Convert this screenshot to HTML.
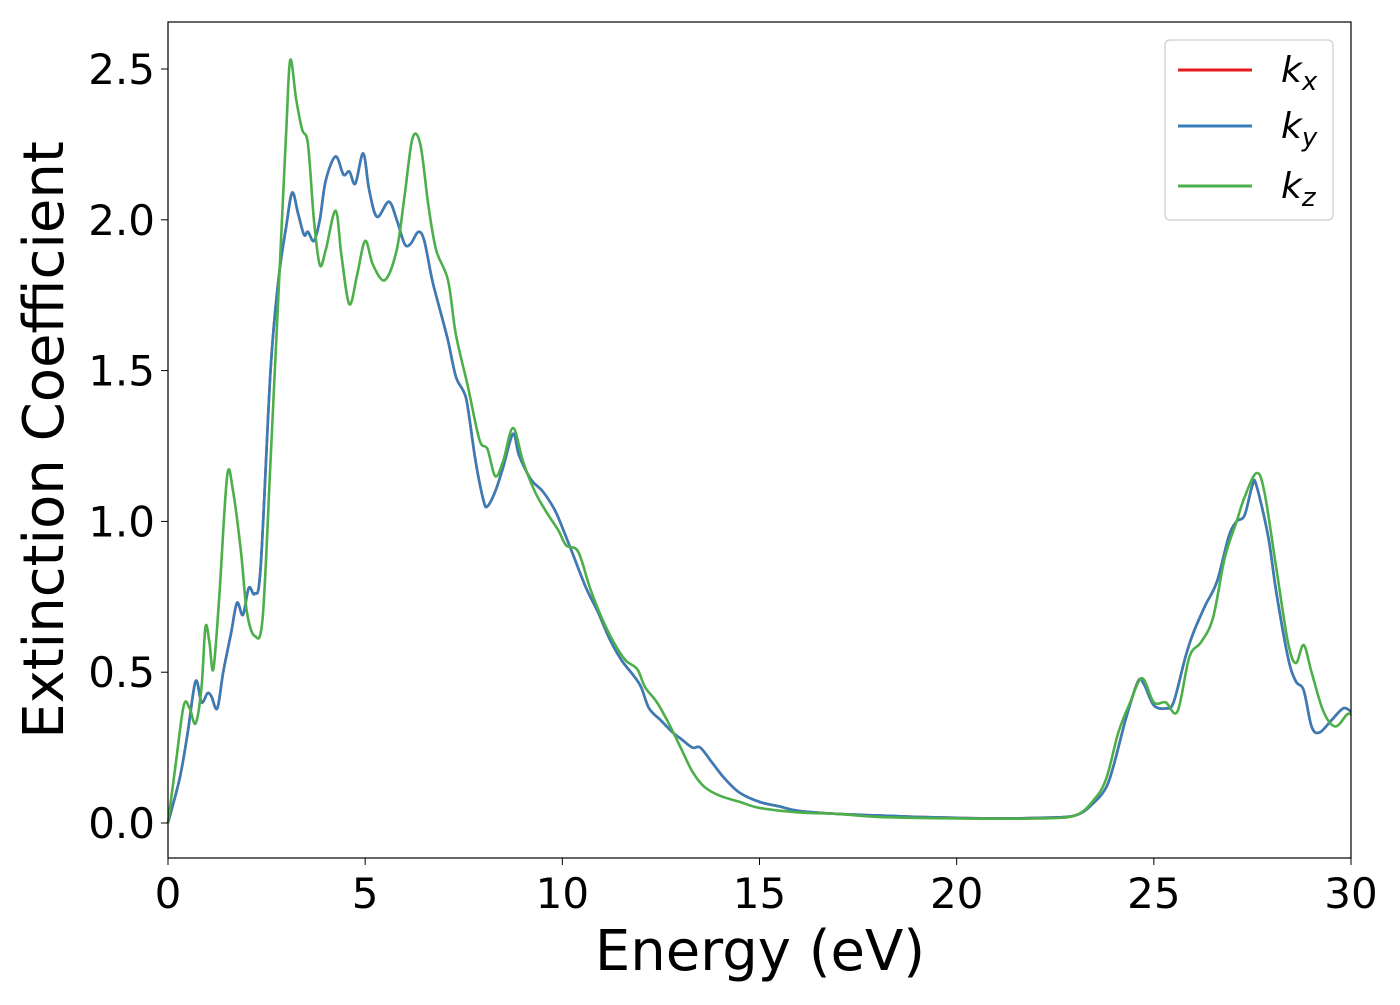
<!DOCTYPE html>
<html><head><meta charset="utf-8"><style>
body{margin:0;background:#fff;}
svg text{font-family:"DejaVu Sans","Liberation Sans",sans-serif;}
</style></head><body>
<svg id="chart" width="1400" height="1000" xmlns="http://www.w3.org/2000/svg">
<g id="series"></g>
<g id="axes"></g>
<rect x="168" y="22" width="1183" height="836" fill="none" stroke="#000" stroke-width="1.2"/>
<text x="760" y="970" font-size="56" text-anchor="middle">Energy (eV)</text>
<text transform="translate(63,440) rotate(-90)" font-size="56" text-anchor="middle">Extinction Coefficient</text>
<g>
<rect x="1165" y="40" width="168" height="180" rx="5" fill="#fff" stroke="#ccc" stroke-width="1.2"/>
<line x1="1178" y1="70" x2="1252" y2="70" stroke="#e41a1c" stroke-width="3"/>
<text x="1281" y="82" font-size="36" font-style="italic">k<tspan font-size="26" dy="8">x</tspan></text>
<line x1="1178" y1="126" x2="1252" y2="126" stroke="#377eb8" stroke-width="3"/>
<text x="1281" y="138" font-size="36" font-style="italic">k<tspan font-size="26" dy="8">y</tspan></text>
<line x1="1178" y1="186" x2="1252" y2="186" stroke="#4daf4a" stroke-width="3"/>
<text x="1281" y="198" font-size="36" font-style="italic">k<tspan font-size="26" dy="8">z</tspan></text>
</g>
</svg>
<script>
const xTicks=[0,5,10,15,20,25,30];
const yTicks=[0.0,0.5,1.0,1.5,2.0,2.5];
const energyXY=[0,0.3,0.5,0.7,0.85,1.0,1.1,1.25,1.4,1.6,1.75,1.9,2.05,2.2,2.35,2.6,2.8,3.0,3.15,3.3,3.45,3.55,3.7,3.85,4.0,4.25,4.45,4.6,4.75,4.95,5.1,5.3,5.6,5.8,6.0,6.15,6.35,6.5,6.7,6.9,7.1,7.3,7.5,7.6,7.8,8.0,8.1,8.3,8.5,8.75,8.9,9.2,9.5,9.8,10.0,10.3,10.6,10.9,11.2,11.5,11.8,12.0,12.2,12.5,12.8,13.0,13.3,13.5,13.8,14.1,14.5,15.0,15.5,16,17,18,19,20,21,22,23,23.5,23.8,24.0,24.3,24.6,24.75,25.0,25.3,25.5,25.8,26.0,26.3,26.6,26.9,27.1,27.3,27.5,27.6,27.9,28.1,28.4,28.6,28.8,29.0,29.2,29.5,29.8,30];
const kxy=[0,0.15,0.3,0.47,0.4,0.43,0.42,0.38,0.5,0.63,0.73,0.69,0.78,0.76,0.85,1.5,1.8,1.98,2.09,2.02,1.95,1.96,1.93,2.0,2.13,2.21,2.15,2.16,2.12,2.22,2.1,2.01,2.06,2.0,1.92,1.92,1.96,1.93,1.8,1.7,1.6,1.48,1.43,1.38,1.2,1.07,1.05,1.1,1.18,1.29,1.22,1.14,1.1,1.04,0.98,0.88,0.78,0.7,0.61,0.54,0.49,0.45,0.38,0.34,0.3,0.28,0.25,0.25,0.2,0.15,0.1,0.07,0.055,0.04,0.03,0.025,0.02,0.017,0.015,0.017,0.025,0.07,0.12,0.2,0.35,0.47,0.46,0.39,0.38,0.4,0.55,0.63,0.72,0.8,0.95,1.0,1.02,1.12,1.12,0.95,0.77,0.55,0.47,0.44,0.32,0.3,0.34,0.38,0.37];
const energyZ=[0,0.2,0.4,0.55,0.7,0.85,0.95,1.05,1.15,1.3,1.5,1.65,1.85,2.0,2.2,2.4,2.6,2.8,3.0,3.1,3.25,3.4,3.55,3.7,3.85,4.0,4.25,4.4,4.6,4.8,5.0,5.2,5.5,5.8,6.0,6.2,6.4,6.6,6.8,7.1,7.3,7.6,7.9,8.1,8.3,8.5,8.75,9.0,9.3,9.6,9.9,10.1,10.4,10.7,11.0,11.3,11.6,11.9,12.1,12.4,12.7,13.0,13.3,13.6,14.0,14.5,15,16,17,18,20,22,23,23.5,23.8,24.1,24.4,24.7,25.0,25.3,25.6,25.9,26.2,26.5,26.8,27.1,27.3,27.6,27.8,28.1,28.4,28.6,28.8,29.0,29.3,29.6,29.9,30];
const kz=[0,0.2,0.39,0.38,0.33,0.45,0.65,0.6,0.51,0.75,1.15,1.1,0.9,0.7,0.62,0.68,1.2,1.75,2.3,2.53,2.4,2.3,2.25,2.0,1.85,1.9,2.03,1.88,1.72,1.82,1.93,1.85,1.8,1.9,2.08,2.27,2.25,2.05,1.9,1.8,1.62,1.45,1.27,1.24,1.15,1.2,1.31,1.2,1.1,1.03,0.97,0.92,0.9,0.78,0.68,0.6,0.54,0.51,0.45,0.4,0.33,0.25,0.17,0.12,0.09,0.07,0.05,0.035,0.03,0.02,0.015,0.015,0.025,0.08,0.15,0.3,0.4,0.48,0.4,0.4,0.37,0.55,0.6,0.68,0.88,1.0,1.08,1.16,1.1,0.85,0.6,0.53,0.59,0.5,0.37,0.32,0.36,0.36];

const sx=v=>168+v*(1183/30);
const sy=v=>823-v*(754/2.5);
const NS='http://www.w3.org/2000/svg';
const sg=document.getElementById('series');
const ag=document.getElementById('axes');
function path(xs,ys){
  const p=xs.map((x,i)=>[sx(x),sy(ys[i])]);
  let d='M'+p[0][0]+','+p[0][1];
  for(let i=0;i<p.length-1;i++){
    const p0=p[Math.max(i-1,0)],p1=p[i],p2=p[i+1],p3=p[Math.min(i+2,p.length-1)];
    const c1=[p1[0]+(p2[0]-p0[0])/6,p1[1]+(p2[1]-p0[1])/6];
    const c2=[p2[0]-(p3[0]-p1[0])/6,p2[1]-(p3[1]-p1[1])/6];
    d+=' C'+c1+' '+c2+' '+p2;
  }
  return d;
}
function addLine(xs,ys,color,name){
  const el=document.createElementNS(NS,'path');
  el.setAttribute('d',path(xs,ys));
  el.setAttribute('fill','none');
  el.setAttribute('stroke',color);
  el.setAttribute('stroke-width','2.6');
  el.setAttribute('stroke-linejoin','round');
  
  
  sg.appendChild(el);
}
addLine(energyXY,kxy,'#e41a1c','series-kx');
addLine(energyXY,kxy,'#377eb8','series-ky');
addLine(energyZ,kz,'#4daf4a','series-kz');
xTicks.forEach(t=>{
  const l=document.createElementNS(NS,'line');
  l.setAttribute('x1',sx(t));l.setAttribute('x2',sx(t));l.setAttribute('y1',858);l.setAttribute('y2',865);
  l.setAttribute('stroke','#000');
  
  
  ag.appendChild(l);
  const tx=document.createElementNS(NS,'text');
  tx.setAttribute('x',sx(t));tx.setAttribute('y',908);tx.setAttribute('font-size','42');tx.setAttribute('text-anchor','middle');
  tx.textContent=t;
  
  
  ag.appendChild(tx);
});
yTicks.forEach(t=>{
  const l=document.createElementNS(NS,'line');
  l.setAttribute('x1',161);l.setAttribute('x2',168);l.setAttribute('y1',sy(t));l.setAttribute('y2',sy(t));
  l.setAttribute('stroke','#000');
  
  
  ag.appendChild(l);
  const tx=document.createElementNS(NS,'text');
  tx.setAttribute('x',155);tx.setAttribute('y',sy(t)+15);tx.setAttribute('font-size','42');tx.setAttribute('text-anchor','end');
  tx.textContent=t.toFixed(1);
  
  
  ag.appendChild(tx);
});
</script>
</body></html>
